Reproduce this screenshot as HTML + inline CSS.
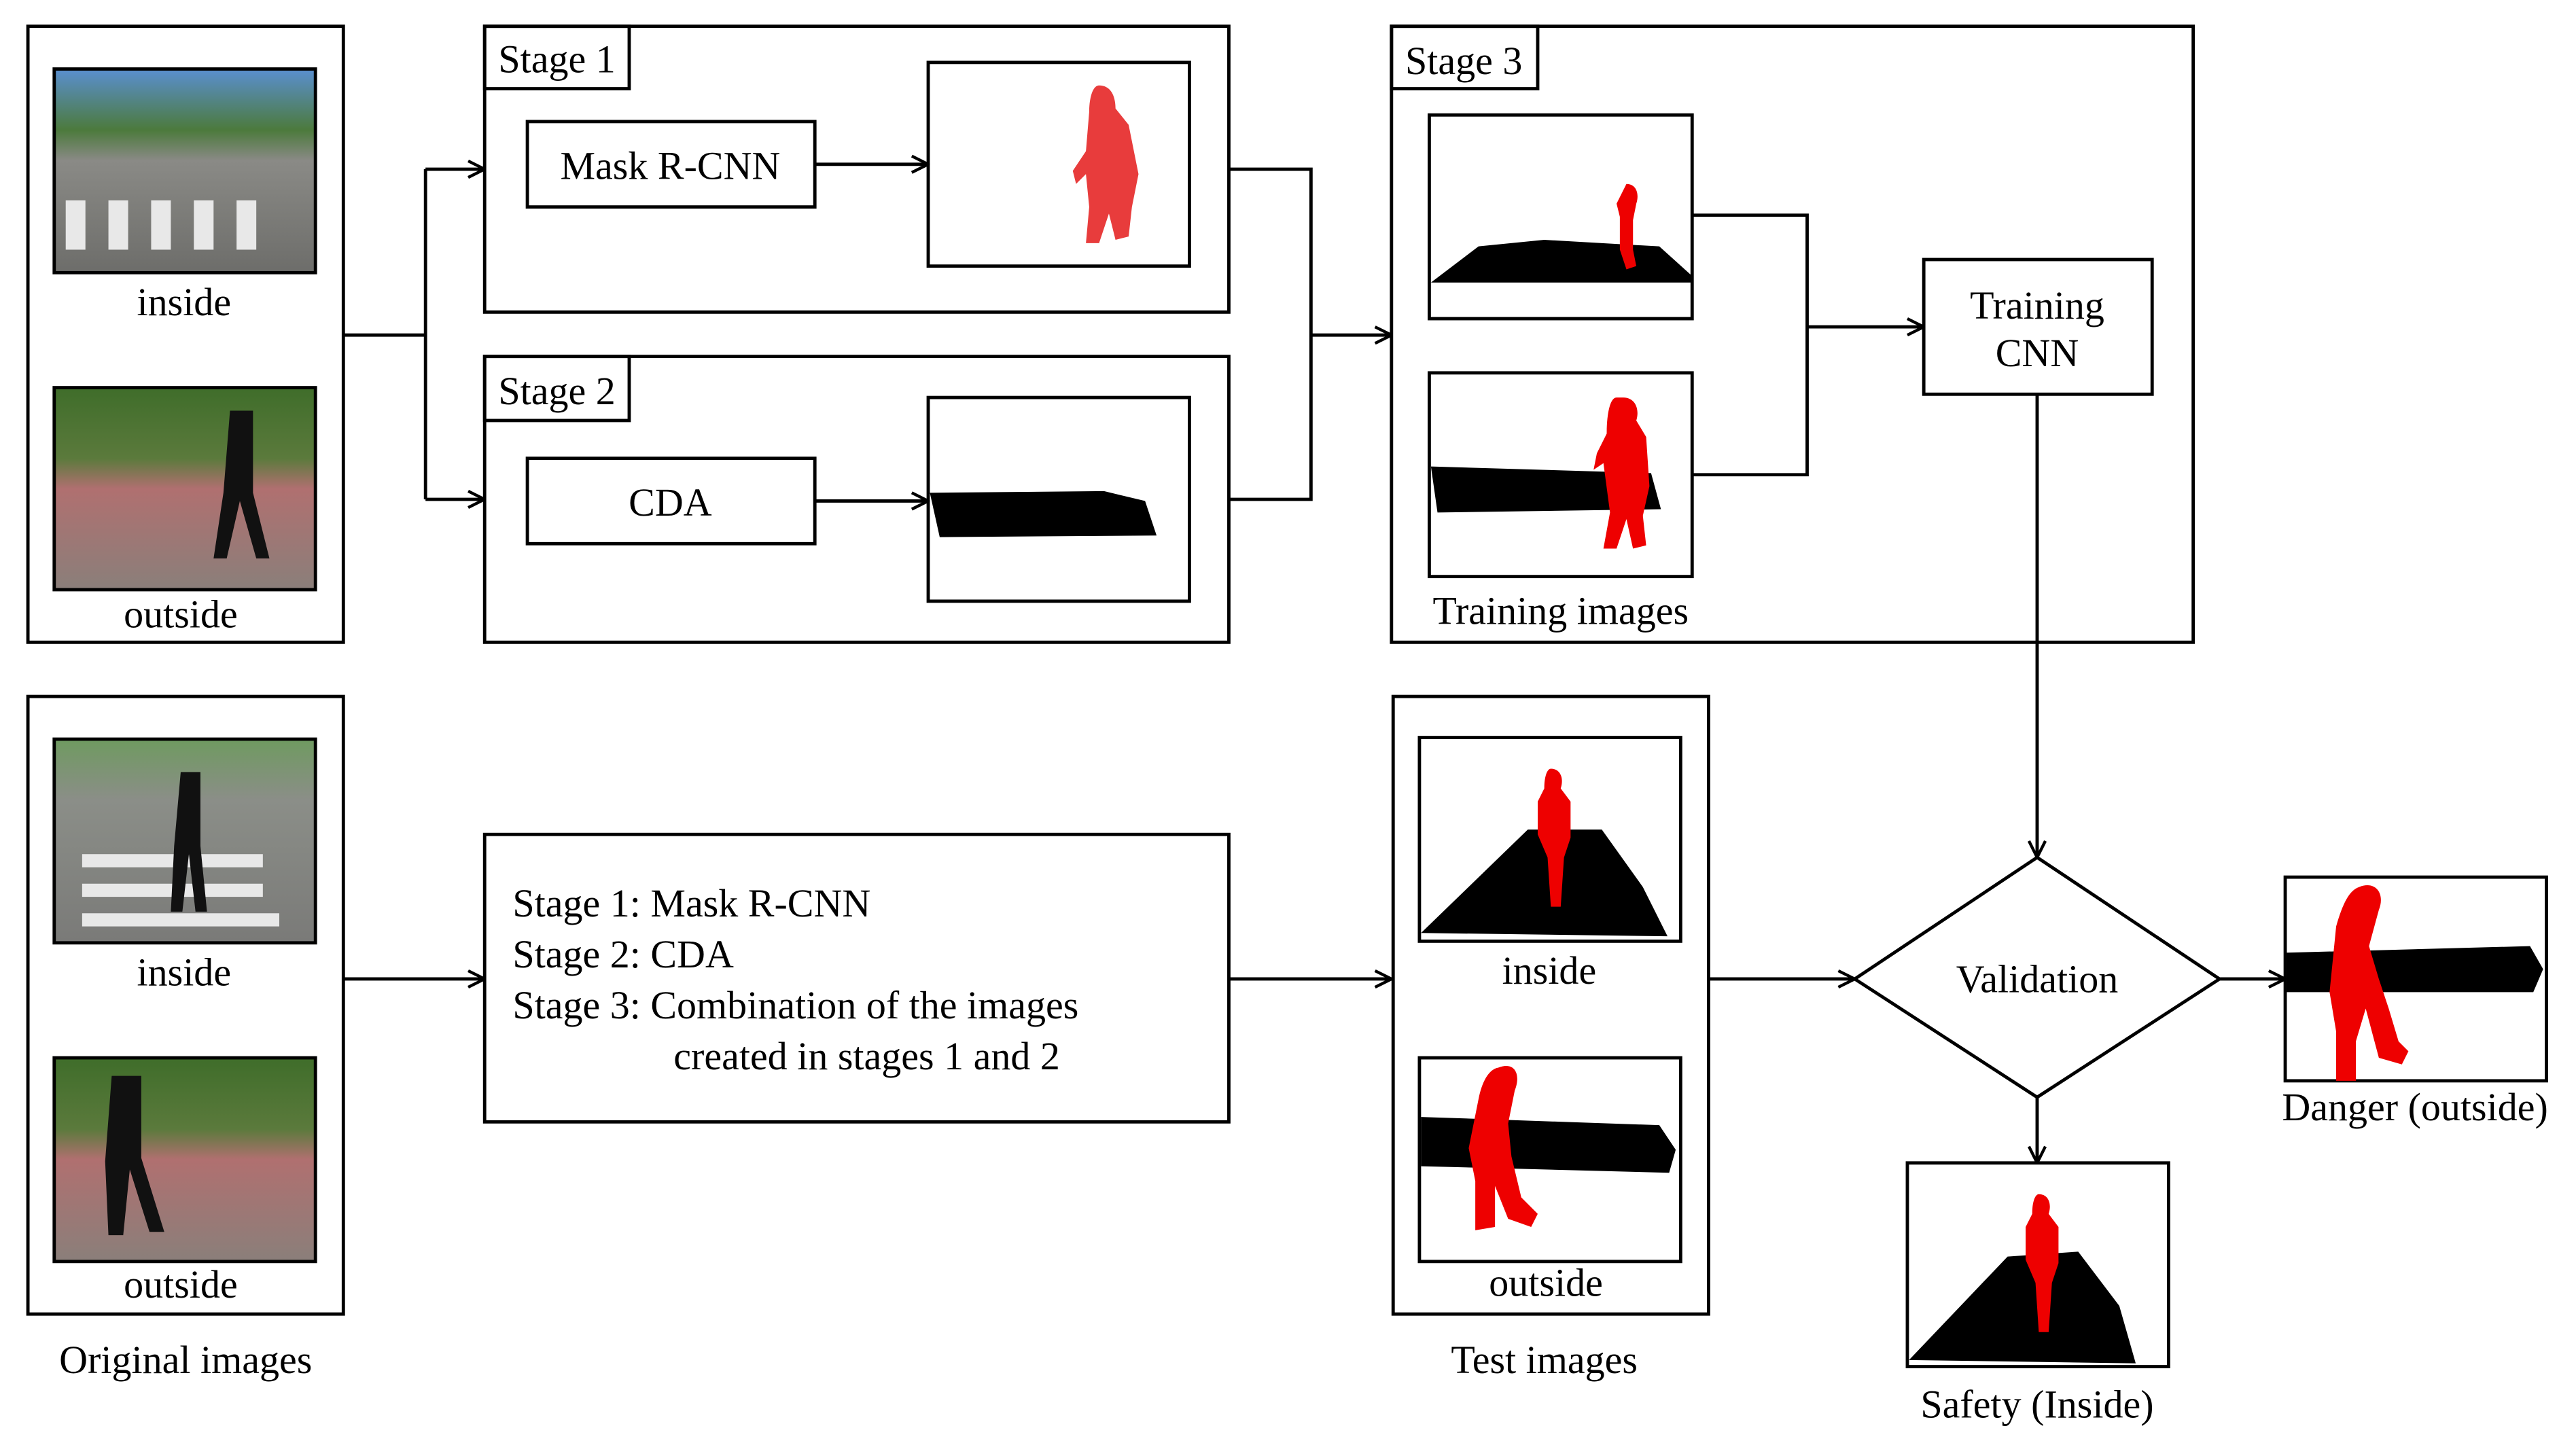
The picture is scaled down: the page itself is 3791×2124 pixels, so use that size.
<!DOCTYPE html>
<html><head><meta charset="utf-8"><style>
html,body{margin:0;padding:0;background:#fff}
svg{display:block}
text{font-family:"Liberation Serif",serif;font-size:24px;fill:#000}
</style></head><body>
<svg width="3791" height="2124" viewBox="0 0 1568 878.5" xmlns="http://www.w3.org/2000/svg">
<defs>
<marker id="a" markerWidth="12" markerHeight="12" refX="11" refY="6" orient="auto" markerUnits="userSpaceOnUse">
<path d="M1,1 L11,6 L1,11" fill="none" stroke="#000" stroke-width="1.8"/></marker>
<linearGradient id="p1" x1="0" y1="0" x2="0" y2="1">
<stop offset="0" stop-color="#5a8fd0"/><stop offset="0.3" stop-color="#4c7a3c"/><stop offset="0.45" stop-color="#8a8a86"/><stop offset="1" stop-color="#6d6d6a"/></linearGradient>
<linearGradient id="p2" x1="0" y1="0" x2="0" y2="1">
<stop offset="0" stop-color="#3f6d2a"/><stop offset="0.35" stop-color="#5b7a3c"/><stop offset="0.5" stop-color="#b07070"/><stop offset="1" stop-color="#8a7f7a"/></linearGradient>
<linearGradient id="p3" x1="0" y1="0" x2="0" y2="1">
<stop offset="0" stop-color="#6f9a60"/><stop offset="0.3" stop-color="#8b8e88"/><stop offset="1" stop-color="#7a7a78"/></linearGradient>
</defs>
<g fill="none" stroke="#000" stroke-width="2">
<rect x="17" y="16" width="192" height="375"/>
<rect x="17" y="424" width="192" height="376"/>
<rect x="295" y="16" width="453" height="174"/>
<rect x="295" y="16" width="88" height="38"/>
<rect x="321" y="74" width="175" height="52"/>
<rect x="565" y="38" width="159" height="124"/>
<rect x="295" y="217" width="453" height="174"/>
<rect x="295" y="217" width="88" height="39"/>
<rect x="321" y="279" width="175" height="52"/>
<rect x="565" y="242" width="159" height="124"/>
<rect x="847" y="16" width="488" height="375"/>
<rect x="847" y="16" width="89" height="38"/>
<rect x="1171" y="158" width="139" height="82"/>
<rect x="295" y="508" width="453" height="175"/>
<rect x="848" y="424" width="192" height="376"/>
<path d="M1240,522 L1351,596 L1240,668 L1129,596 Z"/>
<path d="M209,204 H259 M259,103 V304"/>
<path d="M259,103 H295" marker-end="url(#a)"/>
<path d="M259,304 H295" marker-end="url(#a)"/>
<path d="M496,100 H565" marker-end="url(#a)"/>
<path d="M496,305 H565" marker-end="url(#a)"/>
<path d="M748,103 H798 V304 H748"/>
<path d="M798,204 H847" marker-end="url(#a)"/>
<path d="M1030,131 H1100 V289 H1030"/>
<path d="M1100,199 H1171" marker-end="url(#a)"/>
<path d="M1240,240 V522" marker-end="url(#a)"/>
<path d="M209,596 H295" marker-end="url(#a)"/>
<path d="M748,596 H847" marker-end="url(#a)"/>
<path d="M1040,596 H1129" marker-end="url(#a)"/>
<path d="M1351,596 H1391" marker-end="url(#a)"/>
<path d="M1240,668 V708" marker-end="url(#a)"/>
</g>
<rect x="33" y="42" width="159" height="124" fill="url(#p1)" stroke="#000" stroke-width="2"/>
<g fill="#e8e8e8"><rect x="40" y="122" width="12" height="30"/><rect x="66" y="122" width="12" height="30"/><rect x="92" y="122" width="12" height="30"/><rect x="118" y="122" width="12" height="30"/><rect x="144" y="122" width="12" height="30"/></g>
<rect x="33" y="236" width="159" height="123" fill="url(#p2)" stroke="#000" stroke-width="2"/>
<path d="M140,250 h14 v50 l10,40 h-8 l-10,-35 l-8,35 h-8 l6,-40 z" fill="#111"/>
<rect x="33" y="450" width="159" height="124" fill="url(#p3)" stroke="#000" stroke-width="2"/>
<g fill="#e8e8e8"><rect x="50" y="520" width="110" height="8"/><rect x="50" y="538" width="110" height="8"/><rect x="50" y="556" width="120" height="8"/></g>
<path d="M110,470 h12 v45 l4,40 h-7 l-4,-35 l-4,35 h-7 l2,-40 z" fill="#111"/>
<rect x="33" y="644" width="159" height="124" fill="url(#p2)" stroke="#000" stroke-width="2"/>
<path d="M68,655 h18 v50 l14,45 h-9 l-12,-38 l-4,40 h-9 l-2,-45 z" fill="#111"/>
<path d="M669,52 c8,0 10,8 10,14 l8,10 l6,30 l-4,20 l-2,18 l-8,2 l-4,-16 l-6,18 l-8,0 l2,-22 l-2,-20 l-6,6 l-2,-8 l8,-12 l2,-24 c0,-8 2,-16 6,-16z" fill="#e83c3c"/>
<path d="M566,300 L672,299 L697,305 L704,326 L572,327 Z" fill="#000"/>
<rect x="870" y="70" width="160" height="124" fill="none" stroke="#000" stroke-width="2"/>
<path d="M871,172 L900,150 L940,146 L1010,150 L1030,168 L1030,172 Z" fill="#000"/>
<path d="M990,112 c6,0 8,6 6,12 l-2,10 l0,18 l2,10 l-6,2 l-4,-12 l0,-20 l-2,-8 z" fill="#e00"/>
<rect x="870" y="227" width="160" height="124" fill="none" stroke="#000" stroke-width="2"/>
<path d="M871,284 L1005,288 L1011,310 L875,312 Z" fill="#000"/>
<path d="M988,242 c8,0 10,8 8,14 l6,10 l2,30 l-4,18 l2,18 l-8,2 l-4,-18 l-6,18 l-8,0 l4,-22 l-4,-30 l-6,4 l2,-10 l6,-12 c0,-12 2,-22 6,-22z" fill="#e00"/>
<rect x="864" y="449" width="159" height="124" fill="none" stroke="#000" stroke-width="2"/>
<path d="M865,568 L930,505 L975,505 L1000,540 L1015,570 Z" fill="#000"/>
<path d="M944,468 c6,0 8,6 6,12 l6,8 l0,22 l-4,12 l-2,30 l-6,0 l-2,-30 l-6,-14 l0,-20 l4,-8 c0,-8 2,-12 4,-12z" fill="#e00"/>
<rect x="864" y="644" width="159" height="124" fill="none" stroke="#000" stroke-width="2"/>
<path d="M865,680 L1010,685 L1020,700 L1016,714 L865,710 Z" fill="#000"/>
<path d="M912,650 c10,-4 14,4 10,14 l-4,20 l2,20 l6,25 l10,10 l-4,8 l-14,-5 l-8,-20 l0,25 l-12,2 l0,-30 l-4,-20 l6,-30 c2,-10 6,-18 12,-19z" fill="#e00"/>
<rect x="1391" y="534" width="159" height="124" fill="none" stroke="#000" stroke-width="2"/>
<path d="M1392,580 L1540,576 L1548,590 L1542,604 L1392,604 Z" fill="#000"/>
<path d="M1436,540 c10,-4 16,4 12,14 l-6,22 l6,20 l6,18 l6,20 l6,6 l-4,8 l-14,-4 l-8,-30 l-6,20 l0,24 l-12,0 l0,-30 l-4,-24 l4,-40 c4,-14 8,-22 14,-24z" fill="#e00"/>
<rect x="1161" y="708" width="159" height="124" fill="none" stroke="#000" stroke-width="2"/>
<path d="M1162,828 L1222,765 L1265,762 L1290,795 L1300,830 Z" fill="#000"/>
<path d="M1241,727 c6,0 8,6 6,12 l6,8 l0,22 l-4,12 l-2,30 l-6,0 l-2,-30 l-6,-14 l0,-20 l4,-8 c0,-8 2,-12 4,-12z" fill="#e00"/>
<g text-anchor="middle">
<text x="112" y="192">inside</text>
<text x="110" y="382">outside</text>
<text x="112" y="600">inside</text>
<text x="110" y="790">outside</text>
<text x="113" y="836">Original images</text>
<text x="339" y="44">Stage 1</text>
<text x="339" y="246">Stage 2</text>
<text x="891" y="45">Stage 3</text>
<text x="408" y="109">Mask R-CNN</text>
<text x="408" y="314">CDA</text>
<text x="950" y="380">Training images</text>
<text x="1240" y="194">Training</text>
<text x="1240" y="223">CNN</text>
<text x="1240" y="604">Validation</text>
<text x="943" y="599">inside</text>
<text x="941" y="789">outside</text>
<text x="940" y="836">Test images</text>
<text x="1470" y="682">Danger (outside)</text>
<text x="1240" y="863">Safety (Inside)</text>
</g>
<text x="312" y="558">Stage 1: Mask R-CNN</text>
<text x="312" y="589">Stage 2: CDA</text>
<text x="312" y="620">Stage 3: Combination of the images</text>
<text x="410" y="651">created in stages 1 and 2</text>
</svg>
</body></html>
